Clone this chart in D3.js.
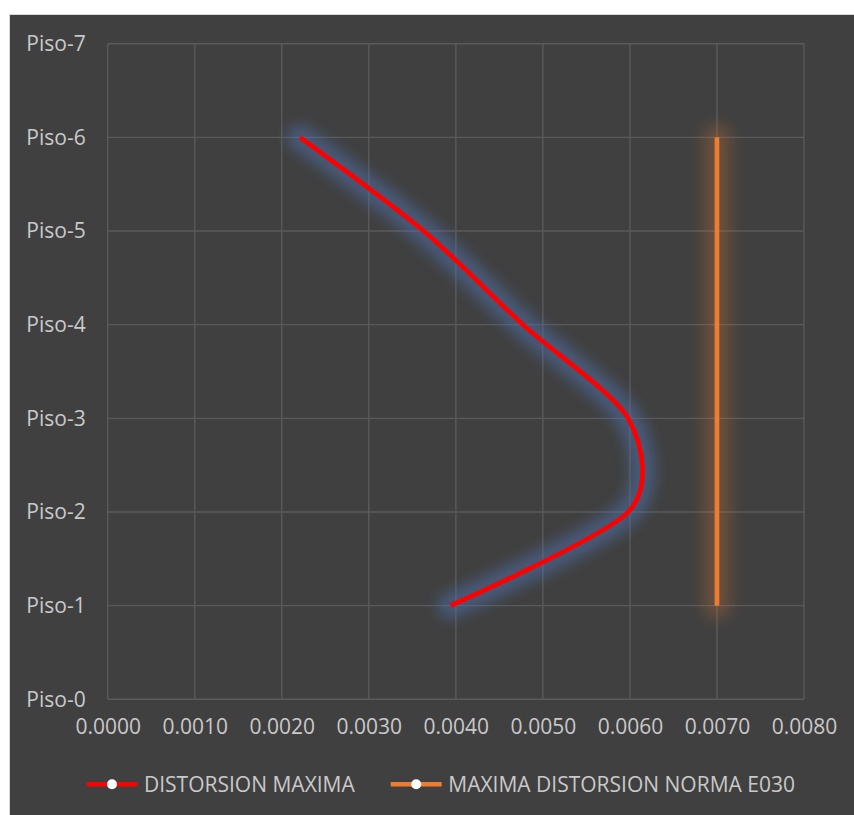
<!DOCTYPE html>
<html>
<head>
<meta charset="utf-8">
<script src="https://cdn.jsdelivr.net/npm/d3@7"></script>
<style>
  html, body { margin: 0; padding: 0; background: #ffffff; }
  svg { display: block; }
  text { font-family: "Open Sans", "Liberation Sans", sans-serif; fill: #c9c9c9; }
</style>
</head>
<body>
<svg id="chart" width="854" height="815"></svg>
<script>
// Story labels on the vertical axis (Piso-0 .. Piso-7)
const pisoLabels = ["Piso-0", "Piso-1", "Piso-2", "Piso-3", "Piso-4", "Piso-5", "Piso-6", "Piso-7"];
// Floors that carry a value
const floors = [1, 2, 3, 4, 5, 6];
// Maximum inter-story drift per floor
const distorsionMaxima = [0.00394, 0.00598, 0.00598, 0.00477, 0.00363, 0.00221];
// Allowed drift limit (E030 code)
const distorsionNorma = [0.007, 0.007, 0.007, 0.007, 0.007, 0.007];
// Horizontal axis ticks
const xTicks = [0, 0.001, 0.002, 0.003, 0.004, 0.005, 0.006, 0.007, 0.008];
const seriesNames = ["DISTORSION MAXIMA", "MAXIMA DISTORSION NORMA E030"];

const svg = d3.select("#chart");

// Chart area background with thin light frame
svg.append("rect")
  .attr("x", 9.5).attr("y", 14.5)
  .attr("width", 900).attr("height", 900)
  .attr("fill", "#404040")
  .attr("stroke", "#d9d9d9").attr("stroke-width", 1);

const plot = { left: 107.7, right: 804, top: 43.7, bottom: 699.3 };

const x = d3.scaleLinear().domain([0, 0.008]).range([plot.left, plot.right]);
const y = d3.scaleLinear().domain([0, 7]).range([plot.bottom, plot.top]);

// Soft glow filters (user-space region so vertical lines are not clipped)
const defs = svg.append("defs");
[["glowBlue", 6.5], ["glowOrange", 7.5]].forEach(([id, sd]) => {
  defs.append("filter").attr("id", id)
    .attr("filterUnits", "userSpaceOnUse")
    .attr("x", 0).attr("y", 0).attr("width", 854).attr("height", 815)
    .append("feGaussianBlur").attr("stdDeviation", sd);
});

// Gridlines
const grid = svg.append("g").attr("stroke", "#5a5a5a").attr("stroke-width", 1.4);
grid.selectAll("line.v").data(xTicks).join("line")
  .attr("class", "v")
  .attr("x1", d => x(d)).attr("x2", d => x(d))
  .attr("y1", plot.top).attr("y2", plot.bottom);
grid.selectAll("line.h").data(d3.range(pisoLabels.length)).join("line")
  .attr("class", "h")
  .attr("x1", plot.left).attr("x2", plot.right)
  .attr("y1", d => y(d)).attr("y2", d => y(d));

// Axis labels via d3 axes (lines hidden, text styled)
const xAxis = d3.axisBottom(x).tickValues(xTicks).tickFormat(d3.format(".4f")).tickSize(0).tickPadding(20);
const gx = svg.append("g").attr("transform", `translate(0,${plot.bottom})`).call(xAxis);
const yAxis = d3.axisLeft(y).tickValues(d3.range(pisoLabels.length)).tickFormat(i => pisoLabels[i]).tickSize(0).tickPadding(22);
const gy = svg.append("g").attr("transform", `translate(${plot.left},0)`).call(yAxis);
[gx, gy].forEach(g => {
  g.select(".domain").remove();
  g.selectAll("text").attr("font-size", 21).attr("fill", "#c9c9c9")
    .attr("font-family", "'Open Sans', 'Liberation Sans', sans-serif");
});
gx.selectAll("text").attr("dy", "0.71em");

// Series lines
const maxData = floors.map((f, i) => ({ f, v: distorsionMaxima[i] }));
const normData = floors.map((f, i) => ({ f, v: distorsionNorma[i] }));

const smooth = d3.line().x(d => x(d.v)).y(d => y(d.f)).curve(d3.curveCardinal.tension(0.2));
const straight = d3.line().x(d => x(d.v)).y(d => y(d.f));

// Glows
svg.append("path").datum(normData).attr("d", straight)
  .attr("fill", "none").attr("stroke", "#ED7D31").attr("stroke-opacity", 0.26)
  .attr("stroke-width", 26).attr("stroke-linecap", "round")
  .attr("filter", "url(#glowOrange)");
svg.append("path").datum(maxData).attr("d", smooth)
  .attr("fill", "none").attr("stroke", "#4f72ad").attr("stroke-opacity", 0.5)
  .attr("stroke-width", 26).attr("stroke-linecap", "round").attr("stroke-linejoin", "round")
  .attr("filter", "url(#glowBlue)");

svg.append("path").datum(normData).attr("d", straight)
  .attr("fill", "none").attr("stroke", "#ED7D31").attr("stroke-width", 4.7);
svg.append("path").datum(maxData).attr("d", smooth)
  .attr("fill", "none").attr("stroke", "#FF0000").attr("stroke-width", 4.6)
  .attr("stroke-linejoin", "round");

// Legend
const legend = [
  { name: seriesNames[0], color: "#FF0000", x0: 86.7, x1: 137.3, tx: 144 },
  { name: seriesNames[1], color: "#ED7D31", x0: 390.7, x1: 441.7, tx: 448.3 }
];
const ly = 784.3;
const lg = svg.append("g").selectAll("g").data(legend).join("g");
lg.append("line")
  .attr("x1", d => d.x0).attr("x2", d => d.x1)
  .attr("y1", ly).attr("y2", ly)
  .attr("stroke", d => d.color).attr("stroke-width", 4.6);
lg.append("circle")
  .attr("cx", d => (d.x0 + d.x1) / 2).attr("cy", ly).attr("r", 5)
  .attr("fill", "#ffffff");
lg.append("text")
  .attr("x", d => d.tx).attr("y", ly).attr("dy", "0.36em")
  .attr("font-size", 21)
  .text(d => d.name);
</script>
</body>
</html>
